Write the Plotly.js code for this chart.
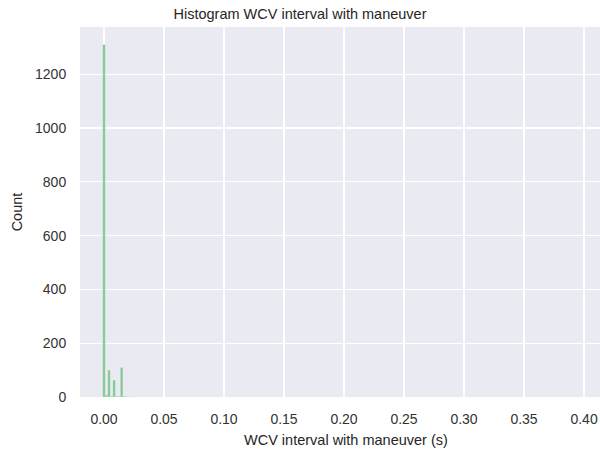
<!DOCTYPE html>
<html>
<head>
<meta charset="utf-8">
<script src="https://cdn.plot.ly/plotly-3.0.1.min.js"></script>
<style>html,body{margin:0;padding:0;background:#fff;}#chart{width:600px;height:450px;}</style>
</head>
<body>
<div id="chart"></div>
<script>
// Histogram bins
const binStart = -0.00105;
const binWidth = 0.0021;
const counts = [1310, 8, 100, 3, 63, 3, 3, 110, 3, 2, 1, 1, 1];
const xTickVals = [0, 0.05, 0.10, 0.15, 0.20, 0.25, 0.30, 0.35, 0.40];
const yTickVals = [0, 200, 400, 600, 800, 1000, 1200];

const centers = counts.map((c, i) => binStart + (i + 0.5) * binWidth);

const font = "Liberation Sans, Arial, sans-serif";
const trace = {
  type: 'bar',
  x: centers,
  y: counts,
  width: binWidth,
  marker: {color: 'rgb(132,198,147)', line: {color: 'rgba(255,255,255,0.6)', width: 0.4}},
  hoverinfo: 'x+y'
};

const layout = {
  width: 600, height: 450,
  margin: {l: 80, r: 0, t: 27, b: 53, pad: 0},
  paper_bgcolor: '#ffffff',
  plot_bgcolor: '#EAEAF2',
  showlegend: false,
  bargap: 0,
  font: {family: font, size: 14, color: '#262626'},
  title: {text: 'Histogram WCV interval with maneuver', x: 0.5, xref: 'container', xanchor: 'center',
          y: 0.969, yref: 'container', yanchor: 'middle', font: {family: font, size: 14.5, color: '#262626'}},
  xaxis: {
    range: [-0.02, 0.4133],
    tickvals: xTickVals,
    ticktext: xTickVals.map(v => v.toFixed(2)),
    showgrid: true, gridcolor: '#ffffff', gridwidth: 1.3,
    zeroline: false, showline: false,
    ticks: 'outside', ticklen: 9, tickcolor: 'rgba(0,0,0,0)',
    tickfont: {family: font, size: 14, color: '#333333'}
  },
  yaxis: {
    range: [0, 1375.5],
    tickvals: yTickVals,
    showgrid: true, gridcolor: '#ffffff', gridwidth: 1.3,
    zeroline: false, showline: false,
    ticks: 'outside', ticklen: 10, tickcolor: 'rgba(0,0,0,0)',
    tickfont: {family: font, size: 14, color: '#333333'},
    title: {text: 'Count', standoff: 8, font: {family: font, size: 14.5, color: '#262626'}}
  },
  annotations: [{
    text: 'WCV interval with maneuver (s)', xref: 'paper', yref: 'paper',
    x: 0.5115, y: -0.117, xanchor: 'center', yanchor: 'middle', showarrow: false,
    font: {family: font, size: 14.5, color: '#262626'}
  }]
};

Plotly.newPlot('chart', [trace], layout, {staticPlot: true, displayModeBar: false});
</script>
</body>
</html>
